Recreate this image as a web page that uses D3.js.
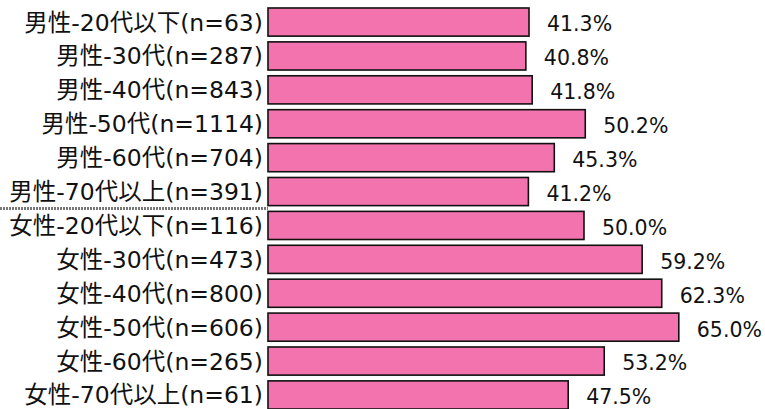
<!DOCTYPE html>
<html><head><meta charset="utf-8">
<script src="https://cdn.jsdelivr.net/npm/d3@7"></script>
<style>body{margin:0;background:#fff}svg{display:block}</style>
</head><body>
<script>
const categories = ["男性-20代以下(n=63)","男性-30代(n=287)","男性-40代(n=843)","男性-50代(n=1114)","男性-60代(n=704)","男性-70代以上(n=391)","女性-20代以下(n=116)","女性-30代(n=473)","女性-40代(n=800)","女性-50代(n=606)","女性-60代(n=265)","女性-70代以上(n=61)"];
const values = [41.3,40.8,41.8,50.2,45.3,41.2,50.0,59.2,62.3,65.0,53.2,47.5];
const separatorAfter = "男性-70代以上(n=391)";

const W = 765, H = 409;
const svg = d3.select("body").append("svg").attr("width", W).attr("height", H);
const x = d3.scaleLinear().domain([0, 100]).range([268, 900]);
const y = d3.scaleBand().domain(categories).range([5.1, 411.9]).paddingInner(0.17).paddingOuter(0.085);
const font = "'DejaVu Sans','Noto Sans CJK JP',sans-serif";

// separator
const sepY = y(separatorAfter) + y.bandwidth() + (y.step() - y.bandwidth()) / 2;
svg.append("line").attr("x1", 0).attr("x2", x(0)).attr("y1", sepY).attr("y2", sepY)
  .attr("stroke", "#777").attr("stroke-width", 3).attr("stroke-dasharray", "2,1");

const rows = svg.selectAll("g.row").data(categories).join("g").attr("class", "row");
rows.append("rect")
  .attr("x", x(0)).attr("y", d => y(d))
  .attr("width", (d, i) => x(values[i]) - x(0)).attr("height", y.bandwidth())
  .attr("fill", "#F273AD").attr("stroke", "#111").attr("stroke-width", 1.6);
rows.append("text")
  .attr("x", x(0) - 5).attr("y", d => y(d) + y.bandwidth() / 2).attr("dy", "0.36em")
  .attr("text-anchor", "end").attr("font-family", font).attr("font-size", 23.5).attr("fill", "#111")
  .text(d => d);
rows.append("text")
  .attr("x", (d, i) => x(values[i]) + 18).attr("y", d => y(d) + y.bandwidth() / 2 + 2).attr("dy", "0.36em")
  .attr("font-family", font).attr("font-size", 20.5).attr("fill", "#111")
  .text((d, i) => values[i].toFixed(1) + "%");
</script>
</body></html>
